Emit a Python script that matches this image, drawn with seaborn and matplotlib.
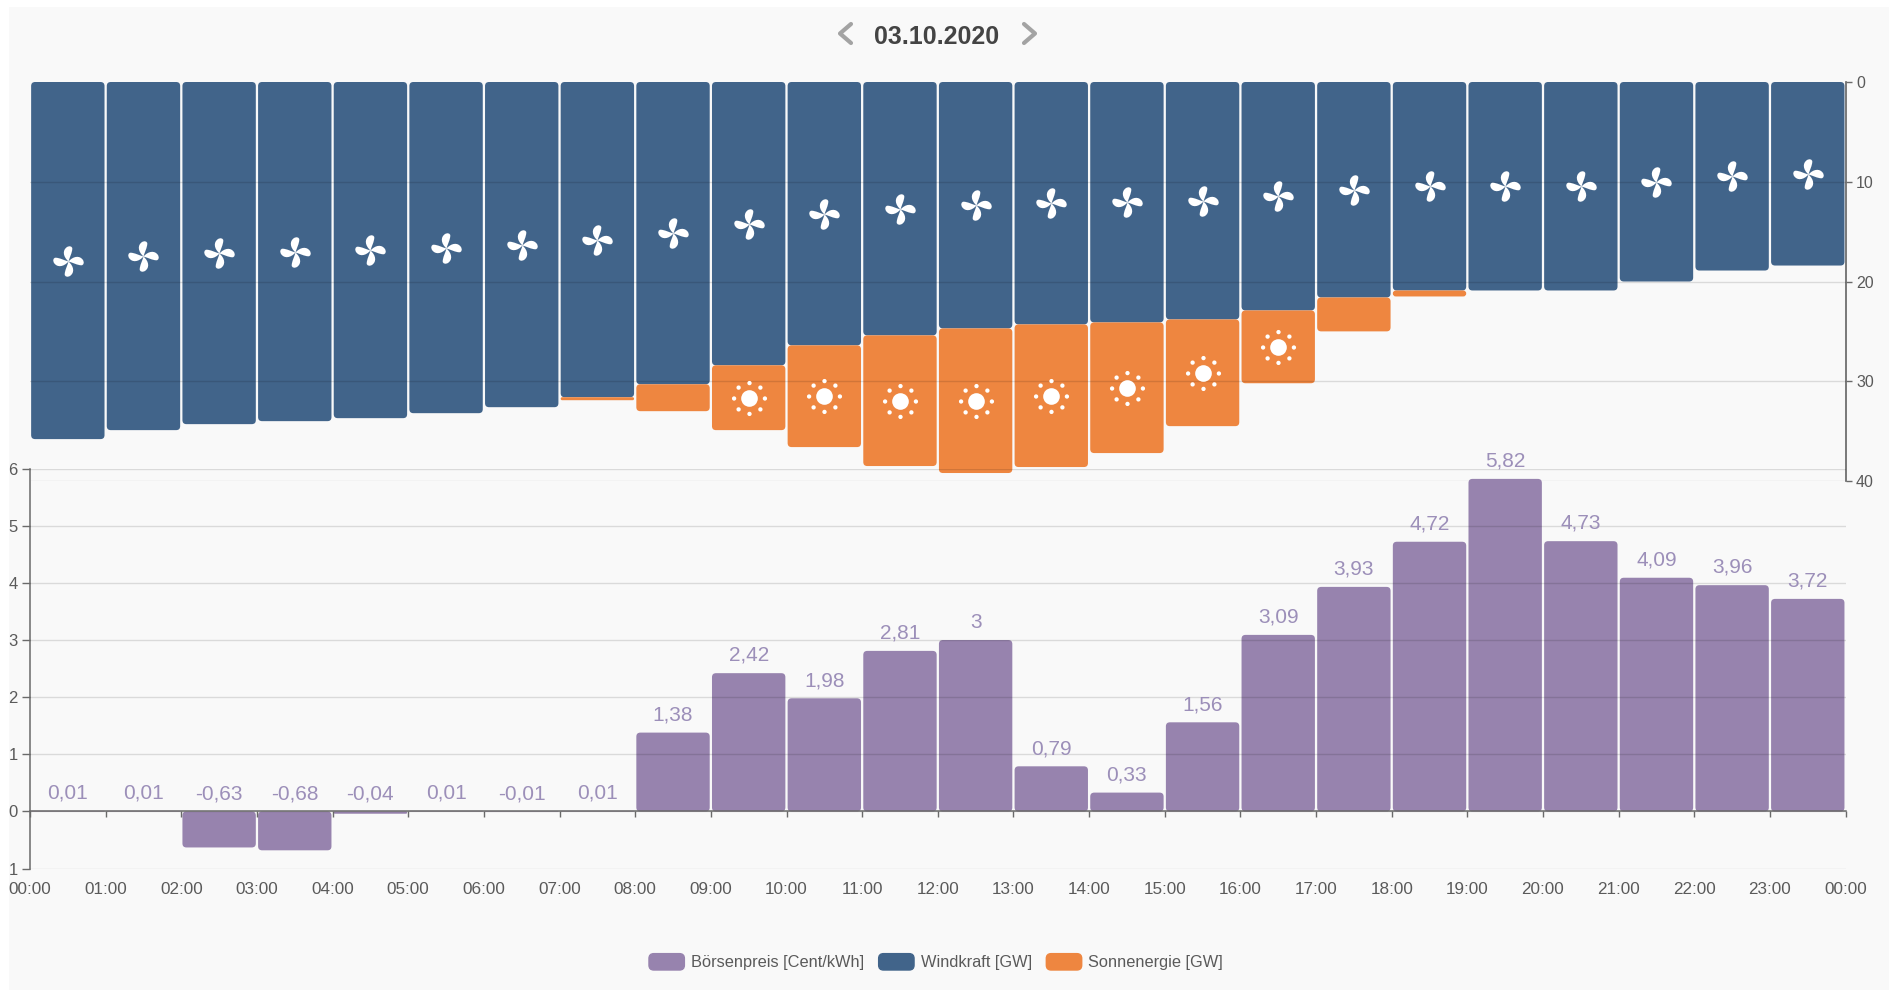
import numpy as np
import pandas as pd
import matplotlib
matplotlib.use("Agg")
import matplotlib.pyplot as plt
import seaborn as sns
from matplotlib.lines import Line2D
from matplotlib.patches import FancyBboxPatch, Patch, Rectangle
from matplotlib.path import Path
from matplotlib.legend_handler import HandlerPatch

# Hourly values for 03.10.2020
hour_labels = [f"{h:02d}:00" for h in range(24)] + ["00:00"]
price = [0.01, 0.01, -0.63, -0.68, -0.04, 0.01, -0.01, 0.01, 1.38, 2.42, 1.98, 2.81,
         3, 0.79, 0.33, 1.56, 3.09, 3.93, 4.72, 5.82, 4.73, 4.09, 3.96, 3.72]
wind = [35.8, 34.9, 34.3, 34.0, 33.7, 33.2, 32.6, 31.6, 30.3, 28.4, 26.4, 25.4,
        24.7, 24.3, 24.1, 23.8, 22.9, 21.6, 20.9, 20.9, 20.9, 20.0, 18.9, 18.4]
solar = [0, 0, 0, 0, 0, 0, 0, 0.3, 2.7, 6.5, 10.2, 13.1,
         14.5, 14.3, 13.1, 10.7, 7.3, 3.4, 0.6, 0, 0, 0, 0, 0]
sun_hours = [9, 10, 11, 12, 13, 14, 15, 16]
price_ticks = [-1, 0, 1, 2, 3, 4, 5, 6]
price_tick_labels = ["1", "0", "1", "2", "3", "4", "5", "6"]
power_ticks = [0, 10, 20, 30, 40]

series_names = ["Börsenpreis [Cent/kWh]", "Windkraft [GW]", "Sonnenergie [GW]"]
PURPLE, BLUE, ORANGE = "#9783ae", "#41648a", "#ee8640"
TICK_COLOR, AXIS_COLOR = "#5a5a5a", "#6a6a6a"
W, H = 1889, 990

sns.set_theme(style="white")
plt.rcParams["font.family"] = ["Liberation Sans", "DejaVu Sans"]


def px_axes(fig, left, top, right, bottom):
    return fig.add_axes([left / W, 1 - bottom / H, (right - left) / W, (bottom - top) / H])


def fig_line(fig, xs, ys, **kw):
    fig.add_artist(Line2D([x / W for x in xs], [1 - y / H for y in ys],
                          transform=fig.transFigure, **kw))


def round_bars(ax, px_per_x, px_per_y, radius=4.0):
    """Swap the rectangles drawn by seaborn for rounded ones with the same geometry."""
    for bar in list(ax.patches):
        x, w = bar.get_x(), bar.get_width()
        y, h = bar.get_y(), bar.get_height()
        color = bar.get_facecolor()
        bar.remove()
        if h == 0:
            continue
        if h < 0:
            y, h = y + h, -h
        aspect = px_per_x / px_per_y
        rx = min(radius / px_per_x, h * px_per_y / 2 / px_per_x)
        ax.add_patch(FancyBboxPatch((x, y), w, h, boxstyle=f"round,pad=0,rounding_size={rx}",
                                    mutation_aspect=aspect, facecolor=color,
                                    edgecolor="none", zorder=1))


def pinwheel_path():
    """Four lopsided blades, each with a nearly straight edge and a bulging one."""
    verts, codes = [], []
    blade = np.array([(0, 0), (0.04, 0.3), (0.16, 0.6), (0.13, 0.88),
                      (0.1, 1.03), (-0.1, 1.05), (-0.24, 0.92),
                      (-0.5, 0.68), (-0.42, 0.28), (0, 0)])
    tilt = np.deg2rad(-8)
    for k in range(4):
        a = -k * np.pi / 2 + tilt
        rot = np.array([[np.cos(a), -np.sin(a)], [np.sin(a), np.cos(a)]])
        verts.extend(blade @ rot.T)
        codes.extend([Path.MOVETO] + [Path.CURVE4] * 9)
    return Path(np.array(verts), codes)


def sun_path():
    parts = [Path.circle((0, 0), 0.54)]
    for k in range(8):
        a = k * np.pi / 4
        parts.append(Path.circle((np.cos(a), np.sin(a)), 0.14))
    return Path.make_compound_path(*parts)


df = pd.DataFrame({"slot": np.arange(24), "price": price, "wind": wind, "solar": solar})

fig = plt.figure(figsize=(W / 100, H / 100), dpi=100, facecolor="white")
fig.add_artist(Rectangle((9 / W, 0), 1 - 9 / W, 1 - 7 / H, transform=fig.transFigure,
                         facecolor="#f9f9f9", edgecolor="none", zorder=-10))

LEFT, RIGHT = 30, 1845.6
px_x = (RIGHT - LEFT) / 24

# Generation panel: wind with solar stacked below it, on an inverted axis
ax_top = px_axes(fig, LEFT, 82, RIGHT, 481)
ax_top.patch.set_alpha(0)
sns.barplot(data=df, x="slot", y="wind", color=BLUE, saturation=1, width=0.97, ax=ax_top)
sns.barplot(data=df, x="slot", y="solar", bottom=df["wind"].to_numpy(), color=ORANGE,
            saturation=1, width=0.97, ax=ax_top)
ax_top.set_xlim(-0.5, 23.5)
ax_top.set_ylim(40, 0)
round_bars(ax_top, px_x, 399 / 40)

sns.scatterplot(x=df["slot"], y=df["wind"] / 2, marker=pinwheel_path(), s=530, color="white",
                linewidth=0, ax=ax_top, zorder=5, legend=False)
sun = df[df["slot"].isin(sun_hours)]
sns.scatterplot(x=sun["slot"], y=sun["wind"] + sun["solar"] / 2, marker=sun_path(), s=640,
                color="white", linewidth=0, ax=ax_top, zorder=5, legend=False)

ax_top.set_xlabel("")
ax_top.set_ylabel("")
ax_top.set_xticks([])
ax_top.yaxis.tick_right()
ax_top.set_yticks(power_ticks)
ax_top.tick_params(axis="y", right=True, left=False, length=4.5, width=1, color=AXIS_COLOR,
                   labelsize=11.5, labelcolor=TICK_COLOR, pad=3)
for name, spine in ax_top.spines.items():
    spine.set_visible(name == "right")
    spine.set_color(AXIS_COLOR)
ax_top.set_axisbelow(False)
ax_top.yaxis.grid(True, color="black", alpha=0.12, linewidth=1)
ax_top.yaxis.get_gridlines()[0].set_visible(False)

# Price panel
ax_low = px_axes(fig, LEFT, 468.6, RIGHT, 868.6)
ax_low.patch.set_alpha(0)
sns.barplot(data=df, x="slot", y="price", color=PURPLE, saturation=1, width=0.97, ax=ax_low)
ax_low.set_xlim(-0.5, 23.5)
ax_low.set_ylim(-1, 6)
round_bars(ax_low, px_x, 400 / 7)

for i, v in enumerate(price):
    ax_low.annotate(f"{v:g}".replace(".", ","), (i, max(v, 0)), xytext=(0, 12.8),
                    textcoords="offset points", ha="center", va="center",
                    fontsize=15, color="#9c8fb9", zorder=6)

ax_low.set_xlabel("")
ax_low.set_ylabel("")
ax_low.set_xticks(np.arange(25) - 0.5)
ax_low.set_xticklabels(hour_labels)
ax_low.set_yticks(price_ticks)
ax_low.set_yticklabels(price_tick_labels)
ax_low.tick_params(axis="x", bottom=True, length=4.5, width=1, color=AXIS_COLOR,
                   labelsize=12.3, labelcolor=TICK_COLOR, pad=46.5)
ax_low.tick_params(axis="y", left=True, length=6, width=1, color=AXIS_COLOR,
                   labelsize=12, labelcolor=TICK_COLOR, pad=3)
for name, spine in ax_low.spines.items():
    spine.set_visible(name in ("left", "bottom"))
    spine.set_color(AXIS_COLOR)
    spine.set_linewidth(1.1)
ax_low.spines["bottom"].set_position(("data", 0))
ax_low.spines["bottom"].set_zorder(4)
ax_low.set_axisbelow(False)
ax_low.yaxis.grid(True, color="black", alpha=0.12, linewidth=1)

# Date header with previous/next chevrons
fig.text(936.7 / W, 1 - 36.5 / H, "03.10.2020", ha="center", va="center",
         fontsize=18, fontweight="bold", color="#444444")
chevron = dict(color="#a3a3a3", linewidth=3, solid_capstyle="round", solid_joinstyle="round")
fig_line(fig, [851, 840, 851], [24, 33.5, 43], **chevron)
fig_line(fig, [1024, 1035, 1024], [24, 33.5, 43], **chevron)


def rounded_handle(legend, orig_handle, xdescent, ydescent, width, height, fontsize):
    return FancyBboxPatch((-xdescent, -ydescent), width, height,
                          boxstyle="round,pad=0,rounding_size=3.5", edgecolor="none")


handles = [Patch(color=c, label=n) for c, n in zip([PURPLE, BLUE, ORANGE], series_names)]
fig.legend(handles=handles, loc="center", bbox_to_anchor=(936 / W, 1 - 962 / H), ncol=3,
           frameon=False, fontsize=11.8, labelcolor=TICK_COLOR,
           handlelength=2.16, handleheight=1.16, handletextpad=0.4, columnspacing=0.89,
           handler_map={Patch: HandlerPatch(patch_func=rounded_handle)})

fig.savefig("out.png", dpi=100, facecolor=fig.get_facecolor())
